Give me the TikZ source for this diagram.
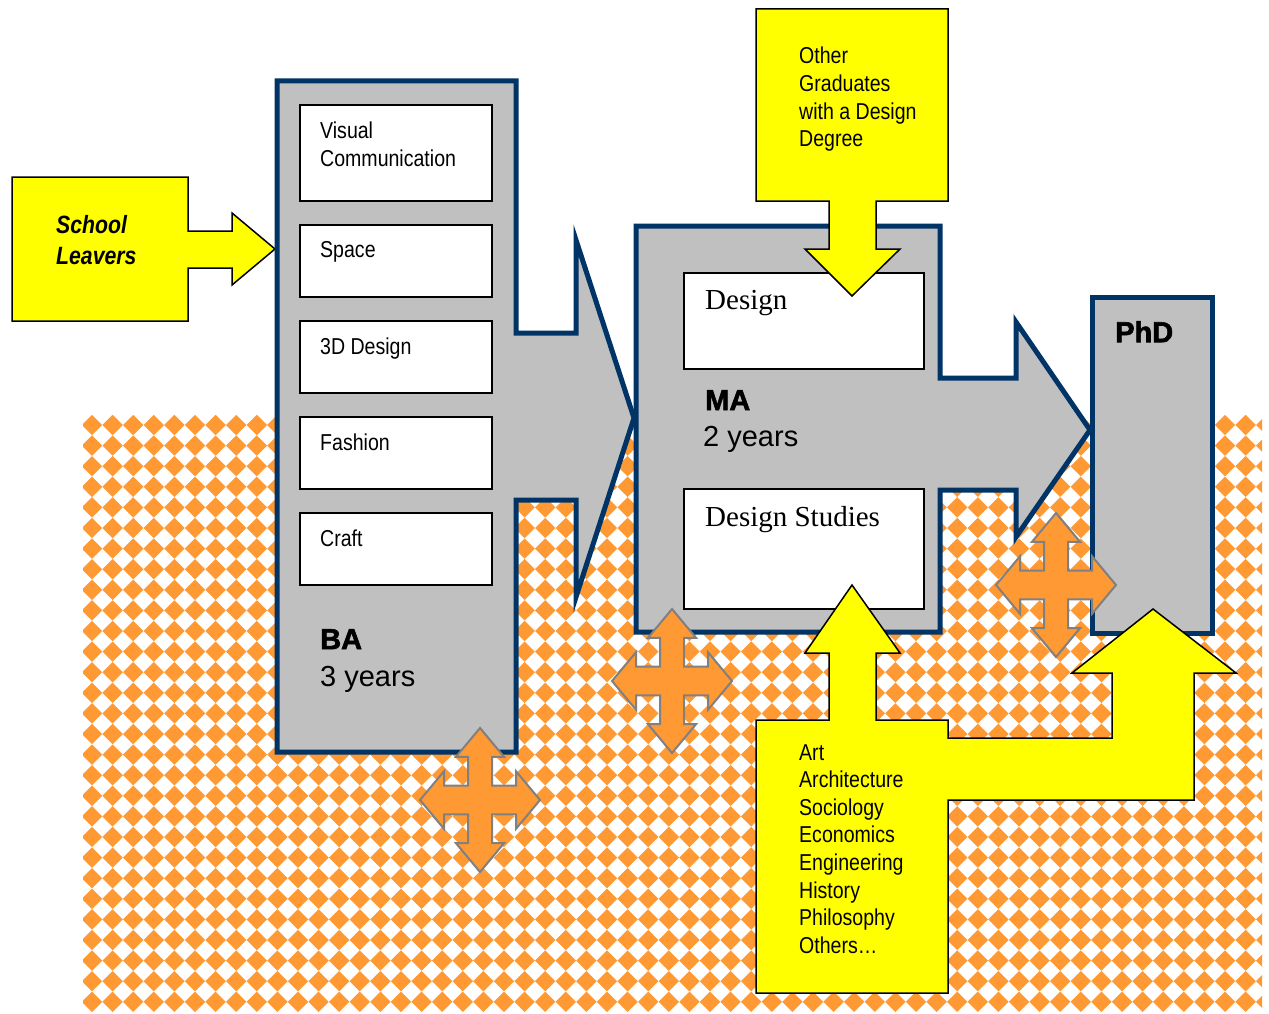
\documentclass[tikz,border=0pt]{standalone}
\usepackage{fontspec}
\setmainfont{Liberation Sans}
\newfontfamily\narrowfont[FakeStretch=0.85]{Liberation Sans}
\newfontfamily\seriffont{Liberation Serif}
\newfontfamily\blackfont[BoldFeatures={FakeBold=2}]{Liberation Sans}
\definecolor{navy}{HTML}{003366}
\definecolor{shade}{HTML}{C0C0C0}
\definecolor{orng}{HTML}{FF9933}
\definecolor{yel}{HTML}{FFFF00}
\begin{document}
\begin{tikzpicture}[x=1pt,y=-1pt,
  stage/.style={fill=shade,draw=navy,line width=5pt,line join=miter,miter limit=20},
  feed/.style={fill=yel,draw=black,line width=1.5pt,line join=miter,miter limit=20},
  item/.style={fill=white,draw=black,line width=1.8pt},
  quad/.style={fill=orng,draw=gray,line width=2pt,line join=miter},
  lbl/.style={anchor=north west,inner sep=0pt,align=left,text=black},
  narrow/.style={font=\narrowfont\fontsize{23}{27.6}\selectfont},
  serif/.style={font=\seriffont\fontsize{29}{34}\selectfont},
  heavy/.style={font=\blackfont\bfseries\fontsize{29}{34}\selectfont},
  plain/.style={font=\fontsize{29}{34}\selectfont}]
\useasboundingbox (0,0) rectangle (1269,1014);
\fill[white] (0,0) rectangle (1269,1014);
% background pattern
\begin{scope}
\clip (83,415) rectangle (1262,1013);
\foreach \i in {0,...,57} {
  \foreach \j in {0,...,28} {
    \fill[orng] ({92+20.6*\i},{425+20.6*\j}) +(-10.2,0) -- +(0,-10.2) -- +(10.2,0) -- +(0,10.2) -- cycle;
  }
}
\end{scope}
% School leavers
\path[feed] (12,177) -- (188,177) -- (188,231) -- (232,231) -- (232,213) -- (275,249) -- (232,285) -- (232,268) -- (188,268) -- (188,321) -- (12,321) -- cycle;
% BA stage
\path[stage] (277,81) -- (516,81) -- (516,333) -- (576,333) -- (576,240) -- (634,418) -- (576,597) -- (576,500) -- (516,500) -- (516,752) -- (277,752) -- cycle;
% MA stage
\path[stage] (636,226) -- (940,226) -- (940,378) -- (1016,378) -- (1016,322) -- (1090,430) -- (1016,537) -- (1016,490) -- (940,490) -- (940,632) -- (636,632) -- cycle;
% PhD stage
\path[stage] (1092,297) rectangle (1212,633);
% BA items
\path[item] (300,105) rectangle (492,201);
\path[item] (300,225) rectangle (492,297);
\path[item] (300,321) rectangle (492,393);
\path[item] (300,417) rectangle (492,489);
\path[item] (300,513) rectangle (492,585);
% MA items
\path[item] (684,273) rectangle (924,369);
\path[item] (684,489) rectangle (924,609);
% other graduates feed
\path[feed] (756,9) -- (948,9) -- (948,201) -- (876,201) -- (876,249) -- (900,249) -- (852,296) -- (805,249) -- (829,249) -- (829,201) -- (756,201) -- cycle;
% other disciplines feed
\path[feed] (756,720) -- (829,720) -- (829,653) -- (805,653) -- (852,585) -- (900,653) -- (876,653) -- (876,720) -- (948,720) -- (948,738) -- (1112,738) -- (1112,673) -- (1072,673) -- (1153,609) -- (1236,673) -- (1194,673) -- (1194,800) -- (948,800) -- (948,993) -- (756,993) -- cycle;
% quad arrows
\foreach \cx/\cy in {480/800, 672/681, 1056/585} {
  \begin{scope}[shift={(\cx,\cy)}]
    \path[quad] (0,-72) -- (24,-43.2) -- (12,-43.2) -- (12,-14.4) -- (36,-14.4) -- (36,-28.8) -- (60,0) -- (36,28.8) -- (36,14.4) -- (12,14.4) -- (12,43.2) -- (24,43.2) -- (0,72) -- (-24,43.2) -- (-12,43.2) -- (-12,14.4) -- (-36,14.4) -- (-36,28.8) -- (-60,0) -- (-36,-28.8) -- (-36,-14.4) -- (-12,-14.4) -- (-12,-43.2) -- (-24,-43.2) -- cycle;
  \end{scope}
}
% texts
\node[lbl,font=\narrowfont\bfseries\itshape\fontsize{25}{31}\selectfont] (school) at (56,215) {School\\Leavers};
\node[lbl,narrow] (viscom) at (320,122) {Visual\\Communication};
\node[lbl,narrow] (space) at (320,241) {Space};
\node[lbl,narrow] (threed) at (320,338) {3D Design};
\node[lbl,narrow] (fashion) at (320,434) {Fashion};
\node[lbl,narrow] (craft) at (320,530) {Craft};
\node[lbl,heavy] (ba) at (320,629) {BA};
\node[lbl,plain] (bayears) at (320,666) {3 years};
\node[lbl,narrow] (other) at (799,47) {Other\\Graduates\\with a Design\\Degree};
\node[lbl,serif] (design) at (705,290) {Design};
\node[lbl,heavy] (ma) at (705,390) {MA};
\node[lbl,plain] (mayears) at (703,426) {2 years};
\node[lbl,serif] (dstudies) at (705,506) {Design Studies};
\node[lbl,heavy] (phd) at (1115,321) {PhD};
\node[lbl,narrow] (disc) at (799,744) {Art\\Architecture\\Sociology\\Economics\\Engineering\\History\\Philosophy\\Others\ldots};
\end{tikzpicture}
\end{document}
